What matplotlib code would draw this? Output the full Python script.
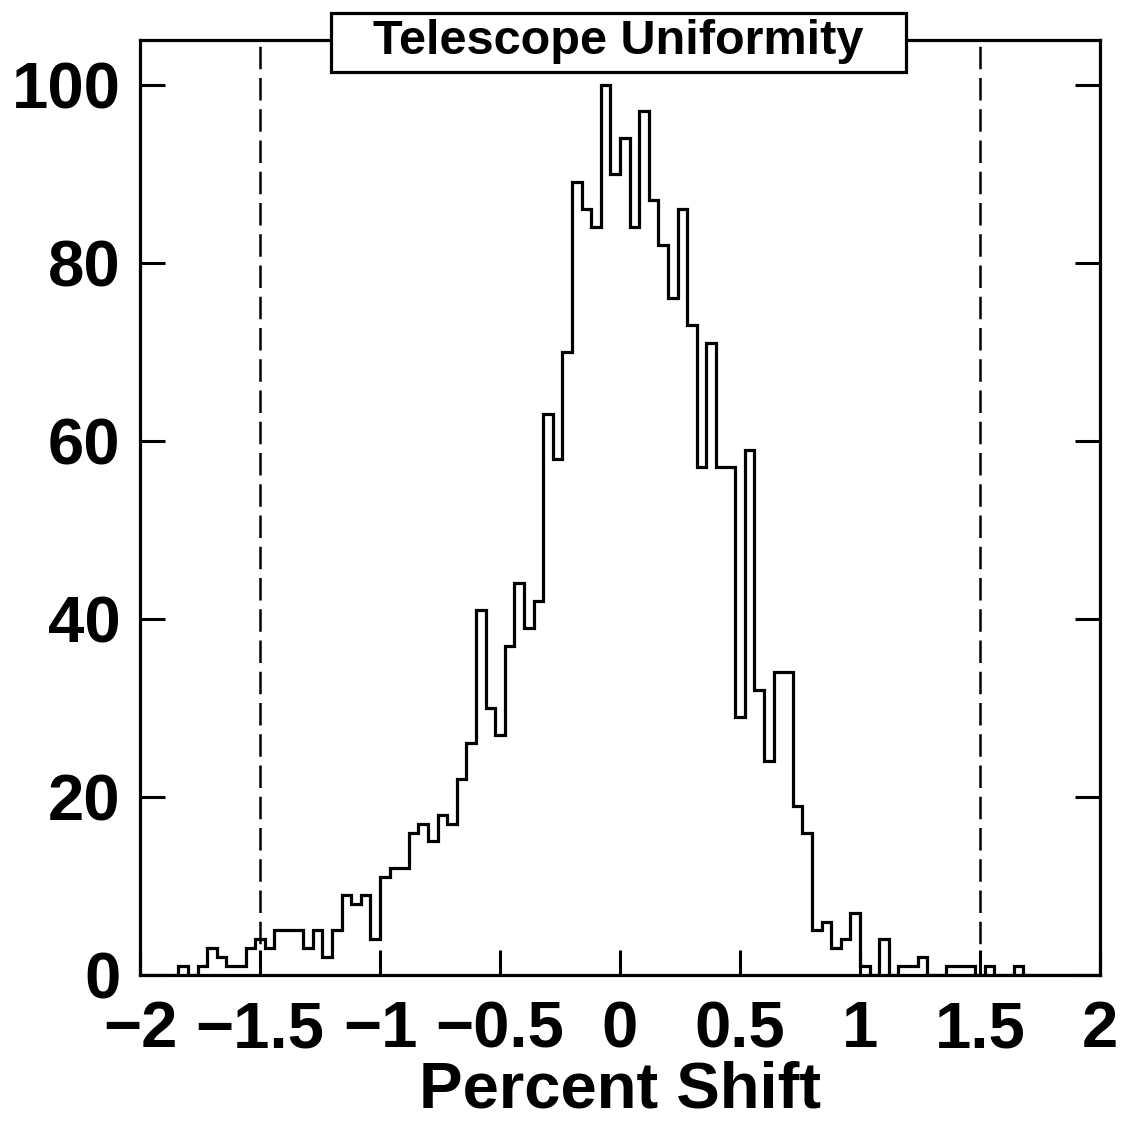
import numpy as np
import matplotlib
matplotlib.use('Agg')
import matplotlib.pyplot as plt
from matplotlib.patches import Rectangle

plt.rcParams['font.family'] = ['Liberation Sans', 'DejaVu Sans']
plt.rcParams['font.weight'] = 'bold'

# histogram: 100 bins of 0.04 from -2 to 2
bin_lo = -2.0
bin_hi = 2.0
counts = [0, 0, 0, 0, 1, 0, 1, 3, 2, 1,
          1, 3, 4, 3, 5, 5, 5, 3, 5, 2,
          5, 9, 8, 9, 4, 11, 12, 12, 16, 17,
          15, 18, 17, 22, 26, 41, 30, 27, 37, 44,
          39, 42, 63, 58, 70, 89, 86, 84, 100, 90,
          94, 84, 97, 87, 82, 76, 86, 73, 57, 71,
          57, 57, 29, 59, 32, 24, 34, 34, 19, 16,
          5, 6, 3, 4, 7, 1, 0, 4, 0, 1,
          1, 2, 0, 0, 1, 1, 1, 0, 1, 0,
          0, 1, 0, 0, 0, 0, 0, 0, 0, 0]
cut_lines = [-1.5, 1.5]
xticks = [-2, -1.5, -1, -0.5, 0, 0.5, 1, 1.5, 2]
xticklabels = ['\u22122', '\u22121.5', '\u22121', '\u22120.5', '0', '0.5', '1', '1.5', '2']
yticks = [0, 20, 40, 60, 80, 100]

edges = np.linspace(bin_lo, bin_hi, len(counts) + 1)

fig = plt.figure(figsize=(11.25, 11.31), dpi=100)
ax = fig.add_axes([140 / 1125, 1 - 975 / 1131, 960 / 1125, 935 / 1131])

ax.stairs(counts, edges, color='black', linewidth=2.3)
for xc in cut_lines:
    ax.axvline(xc, color='black', linewidth=1.8, linestyle=(0, (9, 3.5)))

ax.set_xlim(-2, 2)
ax.set_ylim(0, 105)
ax.set_xticks(xticks)
ax.set_xticklabels(xticklabels)
ax.set_yticks(yticks)
ax.tick_params(axis='both', direction='in', length=18, width=2.2,
               labelsize=47)
ax.tick_params(axis='x', pad=18)
ax.tick_params(axis='y', right=True, pad=14)
for s in ax.spines.values():
    s.set_linewidth(2.3)

ax.set_xlabel('Percent Shift', fontsize=47, fontweight='bold', labelpad=0)

# title box sitting on the top frame
box = Rectangle((0.199, 0.9658), 0.599, 0.0631, transform=ax.transAxes,
                facecolor='white', edgecolor='black', linewidth=2.3,
                clip_on=False, zorder=5)
ax.add_patch(box)
ax.text(0.4984, 0.998, 'Telescope Uniformity', transform=ax.transAxes,
        ha='center', va='center', fontsize=35, fontweight='bold', zorder=6)

fig.savefig('out.png', dpi=100)
